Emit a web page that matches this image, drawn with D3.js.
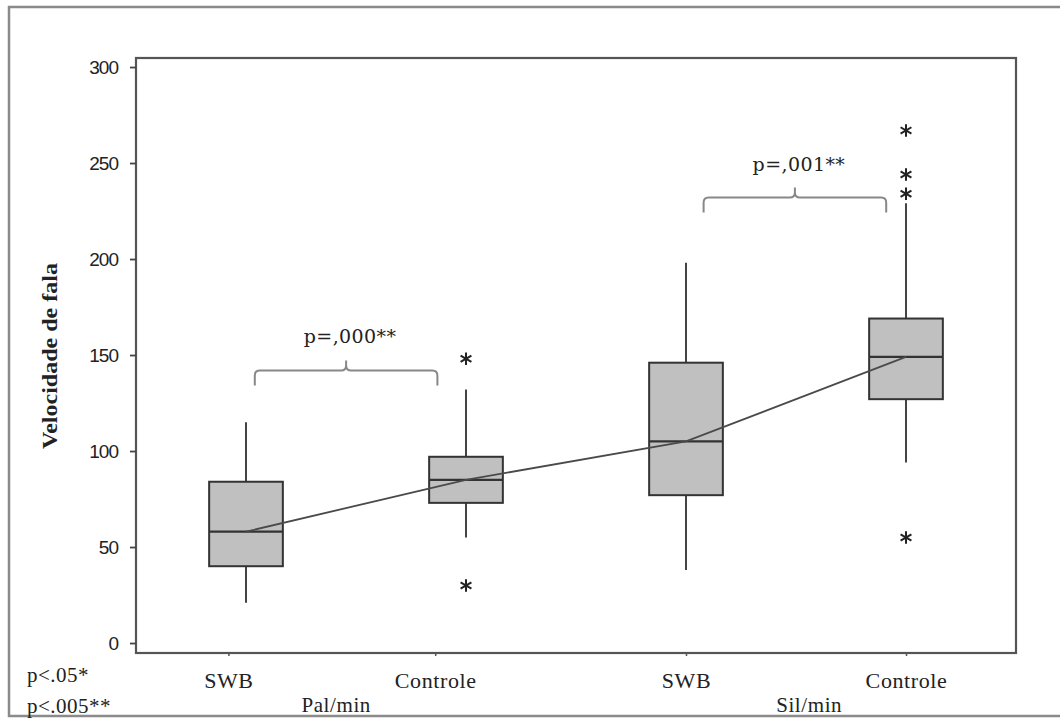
<!DOCTYPE html>
<html lang="pt">
<head>
<meta charset="utf-8">
<title>Velocidade de fala</title>
<script src="https://cdn.jsdelivr.net/npm/d3@7"></script>
<style>
  body { margin: 0; background: #fff; }
  text { font-family: "Liberation Serif", "Times New Roman", serif; fill: #222; }
</style>
</head>
<body>
<div id="chart"></div>
<script>
// data
var groups = ["SWB", "Controle", "SWB", "Controle"];
var positions = [1, 2, 3, 4];
var whiskerLow  = [21, 55, 38, 94];
var q1          = [40, 73, 77, 127];
var medians     = [58, 85, 105, 149];
var q3          = [84, 97, 146, 169];
var whiskerHigh = [115, 132, 198, 229];
var outliers = [
  [],
  [148, 30],
  [],
  [267, 244, 234, 55]
];

var yTicks = [0, 50, 100, 150, 200, 250, 300];
var xTickPos = [0.92, 1.86, 3, 4];
var groupLabels = ["Pal/min", "Sil/min"];
var groupLabelPos = [1.41, 3.56];

// significance brackets: from, to, level, label
var brFrom = [1.04, 3.08];
var brTo = [1.87, 3.91];
var brLevel = [142, 232];
var brLabels = ["p=,000**", "p=,001**"];

var legendLines = ["p<.05*", "p<.005**"];

var W = 1060, H = 718;
var svg = d3.select("#chart").append("svg")
  .attr("width", W).attr("height", H);

// outer frame
svg.append("rect")
  .attr("x", 9).attr("y", 7)
  .attr("width", 1070).attr("height", 709)
  .attr("fill", "none")
  .attr("stroke", "#8a8a8a")
  .attr("stroke-width", 2.5);

var x = d3.scaleLinear().domain([0.5, 4.5]).range([136, 1016]);
var y = d3.scaleLinear().domain([-5.2, 304.7]).range([653, 58]);

var boxW = 0.335;

// plot border
svg.append("rect")
  .attr("x", x(0.5)).attr("y", y(304.7))
  .attr("width", x(4.5) - x(0.5))
  .attr("height", y(-5.2) - y(304.7))
  .attr("fill", "none")
  .attr("stroke", "#555")
  .attr("stroke-width", 2.2);

// y axis
var yAxis = svg.append("g")
  .attr("transform", "translate(" + x(0.5) + ",0)")
  .call(d3.axisLeft(y).tickValues(yTicks).tickSize(6).tickPadding(12));
yAxis.select(".domain").remove();
yAxis.selectAll("line").attr("stroke", "#444").attr("stroke-width", 1.8);
yAxis.selectAll("text")
  .style("font-family", "'Liberation Sans', Arial, sans-serif")
  .style("font-size", "19px")
  .style("letter-spacing", "-1px")
  .attr("fill", "#333");

// x axis
var xAxis = svg.append("g")
  .attr("transform", "translate(0," + y(-5.2) + ")")
  .call(d3.axisBottom(x).tickValues(xTickPos).tickSize(3)
    .tickFormat(function(d, i) { return groups[i]; }).tickPadding(16));
xAxis.select(".domain").remove();
xAxis.selectAll("line").attr("stroke", "#555").attr("stroke-width", 1.5);
xAxis.selectAll("text")
  .style("font-size", "22px")
  .style("letter-spacing", "0.6px")
  .attr("fill", "#2a2a2a");

// group labels
svg.selectAll(".grp")
  .data(groupLabels)
  .enter().append("text")
  .attr("class", "grp")
  .attr("x", function(d, i) { return x(groupLabelPos[i]); })
  .attr("y", 712)
  .attr("text-anchor", "middle")
  .style("font-size", "21px")
  .style("letter-spacing", "0.6px")
  .attr("fill", "#2a2a2a")
  .text(function(d) { return d; });

// y axis title
svg.append("text")
  .attr("transform", "translate(57,356) rotate(-90)")
  .attr("text-anchor", "middle")
  .attr("textLength", 186)
  .attr("lengthAdjust", "spacingAndGlyphs")
  .style("font-size", "20px")
  .style("font-weight", "bold")
  .attr("fill", "#222")
  .text("Velocidade de fala");

// whiskers and boxes
var boxes = svg.append("g");
positions.forEach(function(p, i) {
  boxes.append("line")
    .attr("x1", x(p)).attr("x2", x(p))
    .attr("y1", y(whiskerHigh[i])).attr("y2", y(q3[i]))
    .attr("stroke", "#444").attr("stroke-width", 2);
  boxes.append("line")
    .attr("x1", x(p)).attr("x2", x(p))
    .attr("y1", y(q1[i])).attr("y2", y(whiskerLow[i]))
    .attr("stroke", "#444").attr("stroke-width", 2);
  boxes.append("rect")
    .attr("x", x(p - boxW / 2))
    .attr("y", y(q3[i]))
    .attr("width", x(p + boxW / 2) - x(p - boxW / 2))
    .attr("height", y(q1[i]) - y(q3[i]))
    .attr("fill", "#c0c0c0")
    .attr("stroke", "#333")
    .attr("stroke-width", 2);
  boxes.append("line")
    .attr("x1", x(p - boxW / 2)).attr("x2", x(p + boxW / 2))
    .attr("y1", y(medians[i])).attr("y2", y(medians[i]))
    .attr("stroke", "#333").attr("stroke-width", 2.2);
});

// line joining the medians
svg.append("path")
  .datum(positions)
  .attr("fill", "none")
  .attr("stroke", "#4a4a4a")
  .attr("stroke-width", 1.8)
  .attr("d", d3.line()
    .x(function(d) { return x(d); })
    .y(function(d, i) { return y(medians[i]); }));

// outliers
var star = d3.symbol().type(d3.symbolAsterisk).size(110);
positions.forEach(function(p, i) {
  svg.selectAll(".out" + i)
    .data(outliers[i])
    .enter().append("path")
    .attr("class", "out" + i)
    .attr("d", star)
    .attr("transform", function(d) { return "translate(" + x(p) + "," + y(d) + ")"; })
    .attr("fill", "none")
    .attr("stroke", "#222")
    .attr("stroke-width", 2);
});

// brackets
brLevel.forEach(function(lv, i) {
  var x0 = x(brFrom[i]), x1 = x(brTo[i]), yb = y(lv);
  var xm = (x0 + x1) / 2, r = 5;
  var p = d3.path();
  p.moveTo(x0, yb + 15);
  p.lineTo(x0, yb + r);
  p.quadraticCurveTo(x0, yb, x0 + r, yb);
  p.lineTo(xm - r, yb);
  p.quadraticCurveTo(xm, yb, xm, yb - r);
  p.lineTo(xm, yb - 10);
  p.moveTo(xm, yb - r);
  p.quadraticCurveTo(xm, yb, xm + r, yb);
  p.lineTo(x1 - r, yb);
  p.quadraticCurveTo(x1, yb, x1, yb + r);
  p.lineTo(x1, yb + 15);
  svg.append("path")
    .attr("d", p.toString())
    .attr("fill", "none")
    .attr("stroke", "#888")
    .attr("stroke-width", 2);
  svg.append("text")
    .attr("x", xm + 4)
    .attr("y", yb - 27)
    .attr("text-anchor", "middle")
    .style("font-family", "'DejaVu Serif', Georgia, serif")
    .style("font-size", "19px")
    .style("letter-spacing", "0.4px")
    .attr("fill", "#333")
    .text(brLabels[i]);
});

// significance legend
svg.selectAll(".leg")
  .data(legendLines)
  .enter().append("text")
  .attr("class", "leg")
  .attr("x", 27)
  .attr("y", function(d, i) { return 682 + i * 31; })
  .style("font-size", "21px")
  .style("letter-spacing", "0.5px")
  .attr("fill", "#222")
  .text(function(d) { return d; });
</script>
</body>
</html>
